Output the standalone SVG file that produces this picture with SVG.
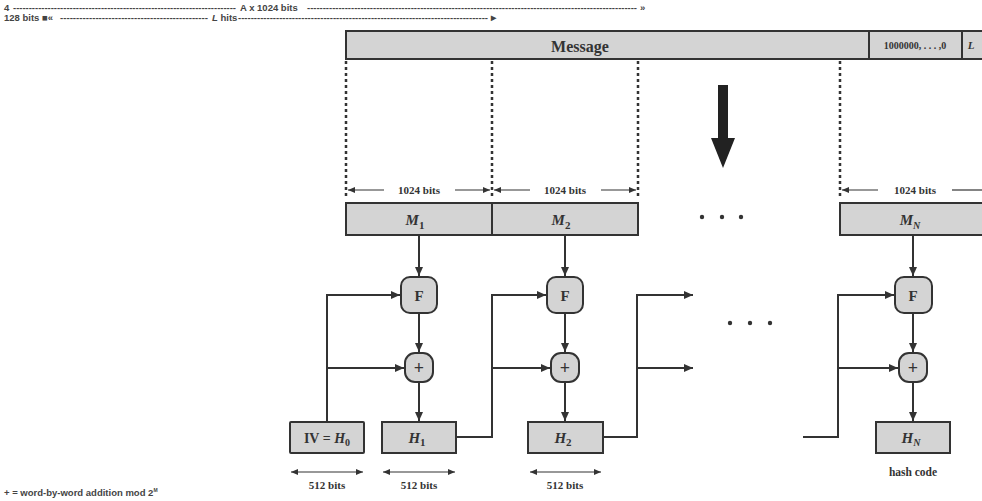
<svg xmlns="http://www.w3.org/2000/svg" width="982" height="501" viewBox="0 0 982 501">
<style>
.hdr{font-family:"Liberation Sans",Arial,sans-serif;font-weight:bold;font-size:9.5px;fill:#444}
.box{fill:#d4d4d4;stroke:#333;stroke-width:2}
.lbl{font-family:"Liberation Serif","Times New Roman",serif;font-weight:bold;fill:#333;text-anchor:middle}
.it{font-style:italic}
.ln{fill:none;stroke:#333;stroke-width:2}
.dot{fill:none;stroke:#333;stroke-width:2.5;stroke-dasharray:3 3}
.dim{fill:none;stroke:#333;stroke-width:1.2}
</style>
<defs>
<marker id="ah" markerUnits="userSpaceOnUse" markerWidth="10" markerHeight="10" refX="9" refY="5" orient="auto">
<path d="M0,1 L9,5 L0,9 Z" fill="#333"/>
</marker>
<marker id="sa" markerUnits="userSpaceOnUse" markerWidth="8" markerHeight="8" refX="7" refY="4" orient="auto-start-reverse">
<path d="M0,1 L7,4 L0,7 Z" fill="#333"/>
</marker>
</defs>
<rect width="982" height="501" fill="#fff"/>
<g id="header">
<text class="hdr" x="4" y="11">4</text>
<text class="hdr" x="13" y="11" textLength="223" lengthAdjust="spacingAndGlyphs">-----------------------------------------------------------------------</text>
<text class="hdr" x="240" y="11">A x 1024 bits</text>
<text class="hdr" x="307" y="11" textLength="330" lengthAdjust="spacingAndGlyphs">---------------------------------------------------------------------------------------------------------</text>
<text class="hdr" x="640" y="11">»</text>
<text class="hdr" x="4" y="21">128 bits ■«</text>
<text class="hdr" x="60" y="21" textLength="148" lengthAdjust="spacingAndGlyphs">----------------------------------------------</text>
<text class="hdr" x="212" y="21"><tspan font-style="italic">L</tspan> hits</text>
<text class="hdr" x="238" y="21" textLength="250" lengthAdjust="spacingAndGlyphs">-------------------------------------------------------------------------------</text>
<text class="hdr" x="489" y="21">►</text>
</g>
<g id="message">
<rect class="box" x="346" y="31" width="645" height="28"/>
<line class="ln" x1="869" y1="31" x2="869" y2="59"/>
<line class="ln" x1="962" y1="31" x2="962" y2="59"/>
<text class="lbl" x="580" y="52" font-size="16">Message</text>
<text class="lbl" x="915" y="49" font-size="10">1000000, . . . ,0</text>
<text class="lbl it" x="971" y="49" font-size="11">L</text>
</g>
<g id="dotted">
<line class="dot" x1="346" y1="61" x2="346" y2="197"/>
<line class="dot" x1="492" y1="61" x2="492" y2="197"/>
<line class="dot" x1="638" y1="61" x2="638" y2="197"/>
<line class="dot" x1="840" y1="61" x2="840" y2="197"/>
</g>
<g id="dims1024">
<line class="dim" x1="348" y1="190" x2="384" y2="190" marker-start="url(#sa)"/>
<line class="dim" x1="455" y1="190" x2="490" y2="190" marker-end="url(#sa)"/>
<text class="lbl" x="419" y="194" font-size="11">1024  bits</text>
<line class="dim" x1="494" y1="190" x2="530" y2="190" marker-start="url(#sa)"/>
<line class="dim" x1="601" y1="190" x2="636" y2="190" marker-end="url(#sa)"/>
<text class="lbl" x="565" y="194" font-size="11">1024  bits</text>
<line class="dim" x1="842" y1="190" x2="878" y2="190" marker-start="url(#sa)"/>
<line class="dim" x1="952" y1="190" x2="982" y2="190"/>
<text class="lbl" x="915" y="194" font-size="11">1024  bits</text>
</g>
<g id="bigarrow">
<path d="M718,85 H728 V138 H735 L723,168 L711,138 H718 Z" fill="#222"/>
</g>
<g id="M1"><rect class="box" x="346" y="203" width="146" height="32"/><text class="lbl it" x="415" y="225" font-size="15">M<tspan font-size="11" dy="4" font-style="normal">1</tspan></text></g>
<g id="M2"><rect class="box" x="492" y="203" width="146" height="32"/><text class="lbl it" x="561" y="225" font-size="15">M<tspan font-size="11" dy="4" font-style="normal">2</tspan></text></g>
<g id="MN"><rect class="box" x="840" y="203" width="150" height="32"/><text class="lbl it" x="910" y="225" font-size="15">M<tspan font-size="10" dy="4">N</tspan></text></g>
<g id="dots1"><circle cx="702" cy="217" r="2.2" fill="#333"/><circle cx="722" cy="217" r="2.2" fill="#333"/><circle cx="741" cy="217" r="2.2" fill="#333"/></g>
<g id="dots2"><circle cx="730" cy="323" r="2.2" fill="#333"/><circle cx="750" cy="323" r="2.2" fill="#333"/><circle cx="770" cy="323" r="2.2" fill="#333"/></g>
<g id="F1"><rect class="box" x="401" y="277" width="36" height="36" rx="9"/><text class="lbl" x="419" y="301" font-size="15">F</text></g>
<g id="P1"><rect class="box" x="405" y="353" width="28" height="29" rx="10"/><text class="lbl" x="419" y="374" font-size="18">+</text></g>
<g id="F2"><rect class="box" x="547" y="277" width="36" height="36" rx="9"/><text class="lbl" x="565" y="301" font-size="15">F</text></g>
<g id="P2"><rect class="box" x="551" y="353" width="28" height="29" rx="10"/><text class="lbl" x="565" y="374" font-size="18">+</text></g>
<g id="FN"><rect class="box" x="895" y="277" width="37" height="36" rx="9"/><text class="lbl" x="913" y="301" font-size="15">F</text></g>
<g id="PN"><rect class="box" x="899" y="353" width="28" height="29" rx="10"/><text class="lbl" x="913" y="374" font-size="18">+</text></g>
<g id="IV"><rect class="box" x="290" y="422" width="74" height="31" rx="1"/><text class="lbl" x="327" y="443" font-size="14">IV = <tspan font-style="italic">H</tspan><tspan font-size="10" dy="3">0</tspan></text></g>
<g id="H1"><rect class="box" x="382" y="422" width="74" height="31"/><text class="lbl it" x="417" y="443" font-size="15">H<tspan font-size="11" dy="3" font-style="normal">1</tspan></text></g>
<g id="H2"><rect class="box" x="528" y="422" width="75" height="31"/><text class="lbl it" x="563" y="443" font-size="15">H<tspan font-size="11" dy="3" font-style="normal">2</tspan></text></g>
<g id="HN"><rect class="box" x="876" y="422" width="74" height="31"/><text class="lbl it" x="911" y="443" font-size="15">H<tspan font-size="10" dy="3">N</tspan></text></g>
<g id="connectors">
<line class="ln" x1="419" y1="235" x2="419" y2="276" marker-end="url(#ah)"/>
<line class="ln" x1="419" y1="313" x2="419" y2="352" marker-end="url(#ah)"/>
<line class="ln" x1="419" y1="382" x2="419" y2="421" marker-end="url(#ah)"/>
<line class="ln" x1="565" y1="235" x2="565" y2="276" marker-end="url(#ah)"/>
<line class="ln" x1="565" y1="313" x2="565" y2="352" marker-end="url(#ah)"/>
<line class="ln" x1="565" y1="382" x2="565" y2="421" marker-end="url(#ah)"/>
<line class="ln" x1="913" y1="235" x2="913" y2="276" marker-end="url(#ah)"/>
<line class="ln" x1="913" y1="313" x2="913" y2="352" marker-end="url(#ah)"/>
<line class="ln" x1="913" y1="382" x2="913" y2="421" marker-end="url(#ah)"/>
<polyline class="ln" points="327,422 327,295 400,295" marker-end="url(#ah)"/>
<line class="ln" x1="327" y1="368" x2="404" y2="368" marker-end="url(#ah)"/>
<polyline class="ln" points="456,437 492,437 492,295 546,295" marker-end="url(#ah)"/>
<line class="ln" x1="492" y1="368" x2="550" y2="368" marker-end="url(#ah)"/>
<polyline class="ln" points="603,437 637,437 637,295 693,295" marker-end="url(#ah)"/>
<line class="ln" x1="637" y1="368" x2="693" y2="368" marker-end="url(#ah)"/>
<polyline class="ln" points="803,437 838,437 838,295 894,295" marker-end="url(#ah)"/>
<line class="ln" x1="838" y1="368" x2="898" y2="368" marker-end="url(#ah)"/>
</g>
<g id="dims512">
<line class="dim" x1="291" y1="472" x2="363" y2="472" marker-start="url(#sa)" marker-end="url(#sa)"/>
<text class="lbl" x="327" y="489" font-size="11">512  bits</text>
<line class="dim" x1="383" y1="472" x2="455" y2="472" marker-start="url(#sa)" marker-end="url(#sa)"/>
<text class="lbl" x="419" y="489" font-size="11">512  bits</text>
<line class="dim" x1="530" y1="472" x2="601" y2="472" marker-start="url(#sa)" marker-end="url(#sa)"/>
<text class="lbl" x="565" y="489" font-size="11">512  bits</text>
<text class="lbl" x="913" y="476" font-size="11.5">hash code</text>
</g>
<text class="hdr" x="4" y="496" font-size="8">+ = word-by-word addition mod 2<tspan font-size="5" dy="-4">M</tspan></text>
</svg>
